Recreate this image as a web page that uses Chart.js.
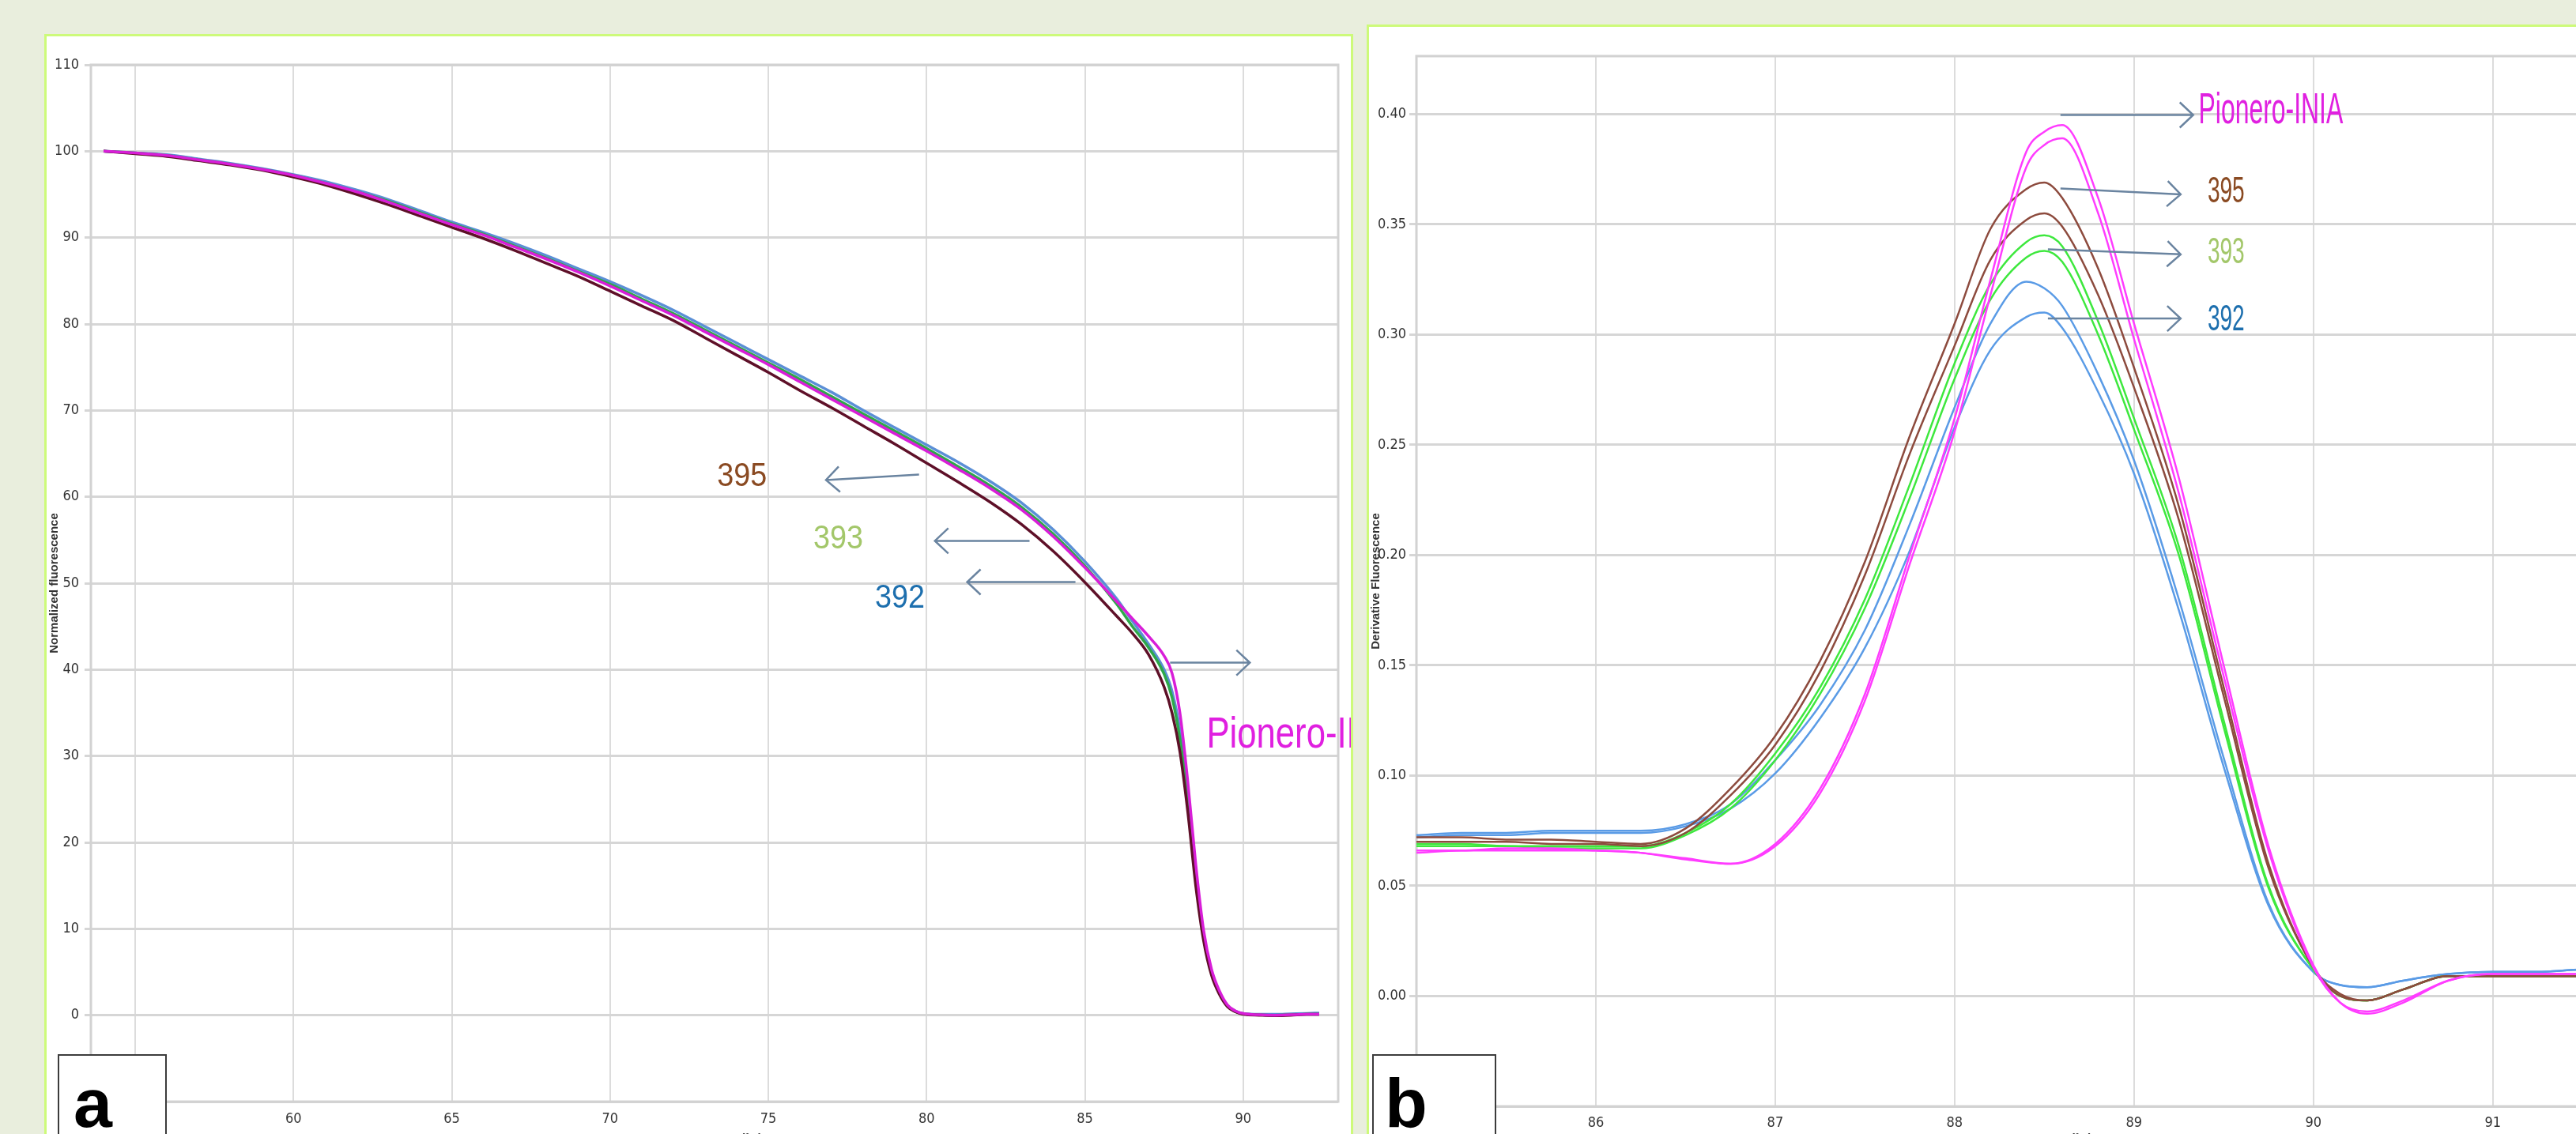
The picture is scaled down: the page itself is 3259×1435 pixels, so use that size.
<!DOCTYPE html>
<html>
<head>
<meta charset="utf-8">
<title>Melting curves</title>
<script src="https://cdn.jsdelivr.net/npm/chart.js@4.4.1/dist/chart.umd.min.js"></script>
<style>
  html, body { margin: 0; padding: 0; width: 3259px; height: 1435px; overflow: hidden; background: #e9eedd; }
  .panel { position: absolute; background: #fff; border: 3px solid #cdfa7a; overflow: hidden; }
  #panelA { left: 56px; top: 43px; width: 1650px; height: 1420px; }
  #panelB { left: 1729px; top: 31px; width: 1670px; height: 1440px; }
  canvas { display: block; }
  .tag { position: absolute; top: 1334px; height: 140px; background: #fff; border: 2px solid #3c3c3c;
         font: bold 88px 'Liberation Sans', Arial, sans-serif; color: #000; }
  .tag span { position: absolute; top: 16px; line-height: 1; }
  #tagA { left: 73px; width: 134px; }
  #tagA span { left: 18px; }
  #tagB { left: 1736px; width: 153px; }
  #tagB span { left: 14px; }
</style>
</head>
<body>
<div class="panel" id="panelA"><canvas id="chartA" width="1650" height="1420"></canvas></div>
<div class="panel" id="panelB"><canvas id="chartB" width="1670" height="1440"></canvas></div>
<div class="tag" id="tagA"><span>a</span></div>
<div class="tag" id="tagB"><span>b</span></div>

<script>
// Panel a - normalized melting curves
const tempsA = [54, 55, 56, 57, 58, 59, 60, 61, 62, 63, 64, 65, 66, 67, 68, 69, 70, 71, 72, 73, 74, 75, 76, 77, 78, 79, 80,
    81, 82, 83, 84, 85, 86, 86.5, 87, 87.5, 87.75, 88, 88.25, 88.5, 88.75, 89, 89.25, 89.5, 89.75, 90, 90.5, 91, 91.5, 92, 92.4];
const pioneroA = [100, 99.8, 99.5, 99.0, 98.5, 97.9, 97.2, 96.3, 95.3, 94.1, 92.8, 91.5, 90.3, 88.9, 87.5, 86.0, 84.4, 82.7, 81.0,
    79.1, 77.2, 75.3, 73.3, 71.3, 69.3, 67.3, 65.3, 63.2, 61.0, 58.5, 55.4, 51.8, 47.9,
    45.9, 43.9, 41.6, 39.6, 35.0, 27.0, 17.5, 9.8, 5.3, 2.8, 1.2, 0.5, 0.2, 0.05, 0.0, 0.05, 0.1, 0.1];
const l395A = [100, 99.7, 99.4, 98.9, 98.4, 97.8, 97.0, 96.1, 95.0, 93.8, 92.5, 91.2, 89.9, 88.5, 87.0, 85.5, 83.8, 82.1, 80.4,
    78.4, 76.4, 74.4, 72.3, 70.3, 68.2, 66.1, 63.9, 61.7, 59.4, 56.8, 53.7, 50.1, 46.2,
    44.2, 41.8, 38.0, 35.0, 30.5, 23.5, 15.0, 8.6, 4.6, 2.4, 1.0, 0.4, 0.1, 0.0, -0.05, 0.0, 0.1, 0.1];
const l393A = [100, 99.8, 99.5, 99.0, 98.5, 97.9, 97.2, 96.3, 95.3, 94.2, 92.9, 91.6, 90.4, 89.0, 87.6, 86.1, 84.6, 82.9, 81.2,
    79.3, 77.4, 75.5, 73.6, 71.6, 69.6, 67.6, 65.6, 63.5, 61.3, 58.8, 55.7, 52.0, 47.6,
    45.0, 42.6, 39.5, 36.8, 32.0, 25.0, 16.2, 9.0, 4.9, 2.6, 1.1, 0.4, 0.15, 0.05, 0.0, 0.05, 0.1, 0.1];
const l392A = [100, 99.8, 99.6, 99.1, 98.6, 98.0, 97.3, 96.5, 95.5, 94.4, 93.1, 91.8, 90.6, 89.3, 87.9, 86.4, 84.9, 83.3, 81.6,
    79.7, 77.8, 75.9, 74.0, 72.1, 70.0, 68.0, 66.0, 64.0, 61.8, 59.3, 56.2, 52.5, 48.2,
    45.6, 43.0, 40.0, 37.5, 33.0, 25.5, 16.5, 9.2, 5.0, 2.6, 1.1, 0.5, 0.2, 0.1, 0.1, 0.15, 0.2, 0.25];
const xTicksA = [55, 60, 65, 70, 75, 80, 85, 90];
const yTicksA = [-10, 0, 10, 20, 30, 40, 50, 60, 70, 80, 90, 100, 110];

// Panel b - derivative melting curves (two replicates per line)
const tempsB = [85, 85.25, 85.5, 85.75, 86, 86.25, 86.5, 86.75, 87, 87.25, 87.5, 87.75, 88, 88.2, 88.4, 88.5, 88.6, 88.8,
    89, 89.25, 89.5, 89.75, 90, 90.15, 90.3, 90.5, 90.75, 91, 91.25, 91.5, 92];
const pioneroB1 = [0.066, 0.066, 0.067, 0.067, 0.066, 0.065, 0.0625, 0.060, 0.069, 0.094, 0.137, 0.200, 0.262, 0.325, 0.383, 0.392,
    0.395, 0.362, 0.305, 0.235, 0.150, 0.068, 0.014, -0.003, -0.008, -0.003, 0.007, 0.010, 0.010, 0.010, 0.010];
const pioneroB2 = [0.065, 0.066, 0.066, 0.066, 0.066, 0.065, 0.062, 0.060, 0.068, 0.092, 0.134, 0.196, 0.256, 0.318, 0.376, 0.386,
    0.389, 0.355, 0.298, 0.228, 0.145, 0.066, 0.013, -0.003, -0.007, -0.002, 0.007, 0.010, 0.010, 0.010, 0.010];
const l395B1 = [0.072, 0.072, 0.071, 0.071, 0.070, 0.069, 0.076, 0.094, 0.118, 0.152, 0.197, 0.254, 0.305, 0.348, 0.366, 0.369,
    0.362, 0.330, 0.285, 0.222, 0.140, 0.060, 0.013, 0.001, -0.002, 0.003, 0.009, 0.009, 0.009, 0.009, 0.009];
const l395B2 = [0.070, 0.070, 0.070, 0.069, 0.069, 0.068, 0.074, 0.091, 0.114, 0.147, 0.191, 0.246, 0.295, 0.334, 0.352, 0.355,
    0.349, 0.318, 0.276, 0.216, 0.136, 0.058, 0.013, 0.000, -0.002, 0.003, 0.009, 0.009, 0.009, 0.009, 0.009];
const l393B1 = [0.069, 0.069, 0.068, 0.068, 0.068, 0.068, 0.074, 0.087, 0.110, 0.140, 0.180, 0.232, 0.287, 0.323, 0.342, 0.345,
    0.340, 0.306, 0.262, 0.204, 0.125, 0.050, 0.012, 0.000, -0.002, 0.003, 0.009, 0.009, 0.009, 0.009, 0.009];
const l393B2 = [0.068, 0.068, 0.068, 0.067, 0.067, 0.067, 0.073, 0.085, 0.107, 0.137, 0.176, 0.226, 0.280, 0.316, 0.335, 0.338,
    0.333, 0.300, 0.257, 0.200, 0.122, 0.049, 0.012, 0.000, -0.002, 0.003, 0.009, 0.009, 0.009, 0.009, 0.009];
const l392B1 = [0.073, 0.074, 0.074, 0.075, 0.075, 0.075, 0.078, 0.087, 0.107, 0.132, 0.166, 0.214, 0.267, 0.305, 0.324, 0.321,
    0.313, 0.282, 0.243, 0.180, 0.108, 0.042, 0.011, 0.005, 0.004, 0.007, 0.010, 0.011, 0.011, 0.012, 0.012];
const l392B2 = [0.072, 0.073, 0.073, 0.074, 0.074, 0.074, 0.077, 0.085, 0.101, 0.126, 0.158, 0.202, 0.258, 0.293, 0.308, 0.310,
    0.303, 0.274, 0.237, 0.175, 0.104, 0.041, 0.011, 0.005, 0.004, 0.007, 0.010, 0.011, 0.011, 0.012, 0.012];
const xTicksB = [85, 86, 87, 88, 89, 90, 91, 92];
const yTicksB = [-0.05, 0, 0.05, 0.10, 0.15, 0.20, 0.25, 0.30, 0.35, 0.40];

// Arrow labels, placed in data units
const notesA = [
    { text: '395', color: '#8a4a22', size: 42, squeeze: 0.9, x: 73.38, y: 62.3, from: [79.76, 62.58], to: [76.82, 61.94] },
    { text: '393', color: '#a3c76a', size: 42, squeeze: 0.9, x: 76.42, y: 55.1, from: [83.25, 54.9], to: [80.26, 54.9] },
    { text: '392', color: '#1d6fae', size: 42, squeeze: 0.9, x: 78.37, y: 48.2, from: [84.70, 50.14], to: [81.28, 50.14] },
    { text: 'Pionero-INIA', color: '#e020e0', size: 56, squeeze: 0.78, x: 88.84, y: 32.4, from: [87.69, 40.8], to: [90.21, 40.8] }
];
const notesB = [
    { text: 'Pionero-INIA', color: '#e020e0', size: 56, squeeze: 0.57, x: 89.36, y: 0.4014, from: [88.59, 0.3996], to: [89.33, 0.3996] },
    { text: '395', color: '#8a4a22', size: 46, squeeze: 0.61, x: 89.41, y: 0.3645, from: [88.59, 0.3663], to: [89.26, 0.3636] },
    { text: '393', color: '#a3c76a', size: 46, squeeze: 0.61, x: 89.41, y: 0.337, from: [88.52, 0.3387], to: [89.26, 0.3364] },
    { text: '392', color: '#1d6fae', size: 46, squeeze: 0.61, x: 89.41, y: 0.3065, from: [88.52, 0.3073], to: [89.26, 0.3073] }
];

const tickFont = { family: "'Liberation Sans Narrow', 'DejaVu Sans Condensed', 'Liberation Sans', sans-serif", size: 18 };
const titleFont = { family: "'Liberation Sans', Arial, sans-serif", size: 15, weight: 'bold' };

function series(temps, vals, color, width) {
    return {
        data: temps.map((t, i) => ({ x: t, y: vals[i] })),
        borderColor: color,
        borderWidth: width,
        pointRadius: 0,
        fill: false,
        cubicInterpolationMode: 'monotone'
    };
}

// Light frame round the plot area
const framePlugin = {
    id: 'frame',
    beforeDatasetsDraw(chart) {
        const a = chart.chartArea;
        const ctx = chart.ctx;
        ctx.save();
        ctx.strokeStyle = '#d2d2d2';
        ctx.lineWidth = 3;
        ctx.strokeRect(a.left, a.top, a.right - a.left, a.bottom - a.top);
        ctx.restore();
    }
};

function drawArrow(ctx, x1, y1, x2, y2) {
    const ang = Math.atan2(y2 - y1, x2 - x1);
    ctx.save();
    ctx.strokeStyle = '#6a84a0';
    ctx.lineWidth = 2.5;
    ctx.beginPath();
    ctx.moveTo(x1, y1);
    ctx.lineTo(x2, y2);
    ctx.moveTo(x2 - 17 * Math.cos(ang) + 16 * Math.sin(ang), y2 - 17 * Math.sin(ang) - 16 * Math.cos(ang));
    ctx.lineTo(x2, y2);
    ctx.lineTo(x2 - 17 * Math.cos(ang) - 16 * Math.sin(ang), y2 - 17 * Math.sin(ang) + 16 * Math.cos(ang));
    ctx.stroke();
    ctx.restore();
}

function notesPlugin(notes) {
    return {
        id: 'notes',
        afterDatasetsDraw(chart) {
            const ctx = chart.ctx;
            const xs = chart.scales.x, ys = chart.scales.y;
            notes.forEach(n => {
                drawArrow(ctx, xs.getPixelForValue(n.from[0]), ys.getPixelForValue(n.from[1]),
                    xs.getPixelForValue(n.to[0]), ys.getPixelForValue(n.to[1]));
                ctx.save();
                ctx.translate(xs.getPixelForValue(n.x), ys.getPixelForValue(n.y));
                ctx.scale(n.squeeze, 1);
                ctx.font = n.size + "px 'Liberation Sans', Arial, sans-serif";
                ctx.fillStyle = n.color;
                ctx.textBaseline = 'middle';
                ctx.textAlign = 'left';
                ctx.fillText(n.text, 0, 0);
                ctx.restore();
            });
        }
    };
}

function makeChart(id, cfg) {
    return new Chart(document.getElementById(id), {
        type: 'line',
        data: { datasets: cfg.datasets },
        options: {
            responsive: false,
            animation: false,
            layout: { padding: cfg.padding },
            plugins: { legend: { display: false }, tooltip: { enabled: false } },
            scales: {
                x: {
                    type: 'linear',
                    min: cfg.xMin,
                    max: cfg.xMax,
                    afterBuildTicks: s => { s.ticks = cfg.xTicks.map(v => ({ value: v })); },
                    afterFit: s => { s.height = cfg.xHeight; },
                    grid: { color: '#dcdcdc', lineWidth: 2, drawTicks: false },
                    border: { display: false },
                    ticks: { font: tickFont, color: '#333', padding: cfg.xPad, maxRotation: 0, callback: v => v },
                    title: { display: true, text: 'Temperature (°C)', font: titleFont, color: '#333',
                             padding: { top: 0, bottom: cfg.xTitlePad } }
                },
                y: {
                    min: cfg.yMin,
                    max: cfg.yMax,
                    afterBuildTicks: s => { s.ticks = cfg.yTicks.map(v => ({ value: v })); },
                    afterFit: s => { s.width = cfg.yWidth; },
                    grid: { color: '#d6d6d6', lineWidth: 3, tickLength: cfg.tickLen },
                    border: { display: false },
                    ticks: { font: tickFont, color: '#333', padding: cfg.yPad, callback: cfg.yFormat },
                    title: { display: true, text: cfg.yTitle, font: titleFont, color: '#333',
                             padding: { top: cfg.yTitlePad, bottom: 0 } }
                }
            }
        },
        plugins: [framePlugin, notesPlugin(cfg.notes)]
    });
}

// first dataset ends up on top
makeChart('chartA', {
    datasets: [
        series(tempsA, pioneroA, '#d81ed8', 3.5),
        series(tempsA, l395A, '#5e1028', 3.5),
        series(tempsA, l393A, '#2ea84a', 3.5),
        series(tempsA, l392A, '#5b8fd6', 3.5)
    ],
    padding: { top: 36, right: 16, bottom: 0, left: 0 },
    xMin: 53.6, xMax: 93, xTicks: xTicksA, xHeight: 72, xPad: 12, xTitlePad: 16,
    yMin: -10, yMax: 110, yTicks: yTicksA, yWidth: 56, yPad: 7, tickLen: 8, yTitlePad: 1,
    yFormat: v => v,
    yTitle: 'Normalized fluorescence',
    notes: notesA
});

makeChart('chartB', {
    datasets: [
        series(tempsB, pioneroB1, '#ff3cff', 2.5),
        series(tempsB, pioneroB2, '#ff3cff', 2.5),
        series(tempsB, l395B1, '#8d4b3e', 2.5),
        series(tempsB, l395B2, '#8d4b3e', 2.5),
        series(tempsB, l393B1, '#3ee83e', 2.5),
        series(tempsB, l393B2, '#3ee83e', 2.5),
        series(tempsB, l392B1, '#5a9be6', 2.5),
        series(tempsB, l392B2, '#5a9be6', 2.5)
    ],
    padding: { top: 37, right: 21, bottom: 0, left: 0 },
    xMin: 85, xMax: 92, xTicks: xTicksB, xHeight: 74, xPad: 11, xTitlePad: 24,
    yMin: -0.05, yMax: 0.4263, yTicks: yTicksB, yWidth: 60, yPad: 4, tickLen: 9, yTitlePad: 0,
    yFormat: v => Number(v).toFixed(2),
    yTitle: 'Derivative Fluorescence',
    notes: notesB
});
</script>
</body>
</html>
